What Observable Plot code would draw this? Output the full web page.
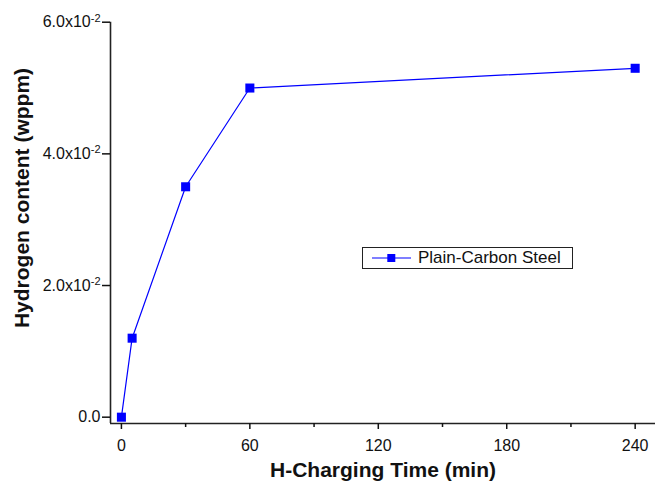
<!DOCTYPE html>
<html><head><meta charset="utf-8">
<script src="https://cdn.jsdelivr.net/npm/d3@7"></script>
<script src="https://cdn.jsdelivr.net/npm/@observablehq/plot@0.6"></script>
<style>
body{margin:0;background:#fff;}
#chart{position:relative;width:655px;height:481px;font-family:"Liberation Sans",Arial,Helvetica,sans-serif;}
#chart g[aria-label="x-axis tick label"], #chart g[aria-label="y-axis tick label"]{font-size:16px !important;}
#chart g[aria-label="x-axis tick label"] text, #chart g[aria-label="y-axis tick label"] text{font-size:16px !important;}
#chart g[aria-label="y-axis tick label"] tspan{font-size:11px !important;}
#legend{position:absolute;left:362px;top:247px;width:209px;height:20px;border:1px solid #222;background:#fff;font-size:17px;color:#111;}
#legend svg{position:absolute;left:0;top:0;}
#legend span{position:absolute;left:55px;top:0px;white-space:nowrap;}
</style></head><body><div id="chart"></div>
<script>
const seriesName = "Plain-Carbon Steel";
const timeMin = [0, 5, 30, 60, 240];
const hydrogen = [0, 0.012, 0.035, 0.05, 0.053];
const xTicks = [0, 60, 120, 180, 240];
const xMinorTicks = [30, 90, 150, 210];
const yTicks = [0, 0.02, 0.04, 0.06];
const yTickLabels = ["0.0", "2.0x10^-2", "4.0x10^-2", "6.0x10^-2"];
const xDomain = [-5.1, 249.5];
const yDomain = [-0.00096, 0.06];
const xTitle = "H-Charging Time (min)";
const yTitle = "Hydrogen content (wppm)";

const data = timeMin.map((t, i) => ({t, h: hydrogen[i]}));
const color = "#0000ff";
const font = '"Liberation Sans", Arial, Helvetica, sans-serif';

const plot = Plot.plot({
  width: 655, height: 481,
  marginLeft: 110, marginRight: 0, marginTop: 21.7, marginBottom: 58,
  style: {fontFamily: font, fontSize: "16px", color: "#111", background: "#fff"},
  x: {domain: xDomain},
  y: {domain: yDomain},
  marks: [
    Plot.ruleX([xDomain[0]], {stroke: "#222", strokeWidth: 1.6}),
    Plot.ruleY([yDomain[0]], {stroke: "#222", strokeWidth: 1.6}),
    Plot.axisX(xTicks, {tickSize: 6, tickPadding: 10.5, tickFormat: d => String(d), label: null, strokeWidth: 1.5, fontSize: 16}),
    Plot.axisX(xMinorTicks, {tickSize: 4, tickFormat: () => "", label: null, strokeWidth: 1.5}),
    Plot.axisY(yTicks, {tickSize: 8, tickPadding: 2, tickFormat: d => yTickLabels[yTicks.indexOf(d)], label: null, strokeWidth: 1.5, fontSize: 16}),
    Plot.line(data, {x: "t", y: "h", stroke: color, strokeWidth: 1.2}),
    Plot.dot(data, {x: "t", y: "h", symbol: "square", fill: color, r: 5.1, stroke: null}),
    Plot.text([xTitle], {text: d => d, frameAnchor: "bottom", dy: 53, fontSize: 21, fontWeight: "bold", fill: "#111"}),
    Plot.text([yTitle], {text: d => d, frameAnchor: "left", textAnchor: "middle", lineAnchor: "middle", rotate: -90, dx: -88.5, dy: -24.85, fontSize: 21, fontWeight: "bold", fill: "#111"})
  ]
});

plot.querySelectorAll('g[aria-label="y-axis tick label"] text').forEach(t => {
  const s = t.textContent; const k = s.indexOf("^");
  if (k < 0) return;
  t.textContent = s.slice(0, k);
  const sup = document.createElementNS("http://www.w3.org/2000/svg", "tspan");
  sup.setAttribute("dy", "-0.5em");
  sup.setAttribute("font-size", "11px");
  sup.textContent = s.slice(k + 1);
  t.appendChild(sup);
});

const chart = document.getElementById("chart");
chart.appendChild(plot);

const legend = document.createElement("div");
legend.id = "legend";
legend.innerHTML = `<svg width="60" height="20"><line x1="9" x2="48" y1="10" y2="10" stroke="${color}" stroke-width="1.2"/><rect x="24.3" y="6" width="8" height="8" fill="${color}"/></svg><span>${seriesName}</span>`;
chart.appendChild(legend);
</script>
</body></html>
